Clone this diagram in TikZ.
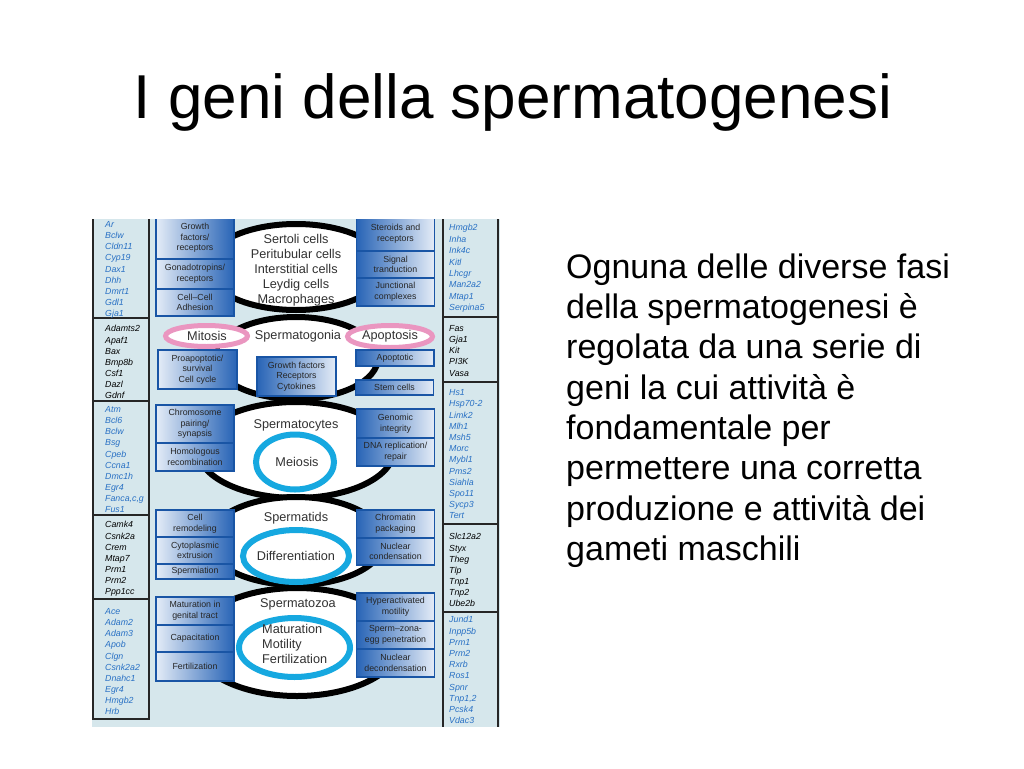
\documentclass[tikz,border=0pt]{standalone}
\usepackage{fontspec}
\setmainfont{Liberation Sans}
\usetikzlibrary{shapes.geometric}
\definecolor{figbg}{RGB}{214,231,236}
\definecolor{geneblue}{RGB}{40,112,196}
\definecolor{boxdark}{RGB}{40,100,182}
\definecolor{boxlight}{RGB}{228,236,247}
\definecolor{boxline}{RGB}{25,85,165}
\definecolor{ringpink}{RGB}{234,150,192}
\definecolor{ringcyan}{RGB}{22,168,224}
\definecolor{inktext}{RGB}{50,50,50}

\begin{document}
\begin{tikzpicture}[
    x=1pt,y=-1pt,
    genes/.style={anchor=north west,inner sep=0pt,align=left,
      font=\fontsize{8.8}{11.1}\selectfont\itshape,execute at begin node=\strut},
    lbox/.style={draw=boxline,line width=1.1pt,left color=boxlight,right color=boxdark,
      minimum width=78pt,inner sep=1pt,align=center,text=black!85,
      font=\fontsize{8.8}{10.6}\selectfont},
    rbox/.style={lbox,left color=boxdark,right color=boxlight},
    stage/.style={ellipse,draw=black,line width=6pt,fill=white,inner sep=0pt},
    cyanring/.style={ellipse,draw=ringcyan,line width=6pt,fill=white,inner sep=0pt},
    pinkring/.style={ellipse,draw=ringpink,line width=5pt,fill=white,inner sep=0pt},
    celltext/.style={inner sep=0pt,align=center,text=inktext,font=\fontsize{12.7}{15}\selectfont},
    rule/.style={line width=1.3pt,draw=black!85}
  ]
  \useasboundingbox (0,0) rectangle (1024,768);

  \node[anchor=base,inner sep=0pt,font=\fontsize{62}{70}\selectfont] (title) at (513,118)
    {I geni della spermatogenesi};

  \node[anchor=north west,inner sep=0pt,align=left,font=\fontsize{34}{40.3}\selectfont,
    execute at begin node=\strut] (caption) at (566,253.5)
    {Ognuna delle diverse fasi\\della spermatogenesi è\\regolata da una serie di\\geni la cui attività è\\fondamentale per\\permettere una corretta\\produzione e attività dei\\gameti maschili};

  \begin{scope}
    \clip (92,219) rectangle (500,727);
    \fill[figbg] (92,219) rectangle (500,727);

    % gene columns
    \draw[rule] (93,219) -- (93,719) -- (149,719) -- (149,219);
    \foreach \y in {318,401,515,599} \draw[rule] (93,\y) -- (149,\y);
    \draw[rule] (443,219) -- (443,727);
    \draw[rule] (498,219) -- (498,727);
    \foreach \y in {317,382,524,612} \draw[rule] (443,\y) -- (498,\y);

    \node[genes,text=geneblue] (genesL1) at (105,221.4)
      {Ar\\Bclw\\Cldn11\\Cyp19\\Dax1\\Dhh\\Dmrt1\\Gdl1\\Gja1};
    \node[genes] (genesL2) at (105,325.4)
      {Adamts2\\Apaf1\\Bax\\Bmp8b\\Csf1\\Dazl\\Gdnf};
    \node[genes,text=geneblue] (genesL3) at (105,406.4)
      {Atm\\Bcl6\\Bclw\\Bsg\\Cpeb\\Ccna1\\Dmc1h\\Egr4\\Fanca,c,g\\Fus1};
    \node[genes] (genesL4) at (105,521.4)
      {Camk4\\Csnk2a\\Crem\\Mtap7\\Prm1\\Prm2\\Ppp1cc};
    \node[genes,text=geneblue] (genesL5) at (105,608.4)
      {Ace\\Adam2\\Adam3\\Apob\\Clgn\\Csnk2a2\\Dnahc1\\Egr4\\Hmgb2\\Hrb};

    \node[genes,text=geneblue,font=\fontsize{8.8}{11.4}\selectfont\itshape] (genesR1) at (449,224.4)
      {Hmgb2\\Inha\\Ink4c\\Kitl\\Lhcgr\\Man2a2\\Mtap1\\Serpina5};
    \node[genes] (genesR2) at (449,325.4)
      {Fas\\Gja1\\Kit\\PI3K\\Vasa};
    \node[genes,text=geneblue,font=\fontsize{8.8}{11.2}\selectfont\itshape] (genesR3) at (449,389.4)
      {Hs1\\Hsp70-2\\Limk2\\Mlh1\\Msh5\\Morc\\Mybl1\\Pms2\\Siahla\\Spo11\\Sycp3\\Tert};
    \node[genes] (genesR4) at (449,533.4)
      {Slc12a2\\Styx\\Theg\\Tlp\\Tnp1\\Tnp2\\Ube2b};
    \node[genes,text=geneblue,font=\fontsize{8.8}{11.2}\selectfont\itshape] (genesR5) at (449,616.4)
      {Jund1\\Inpp5b\\Prm1\\Prm2\\Rxrb\\Ros1\\Spnr\\Tnp1,2\\Pcsk4\\Vdac3};

    % chain of cell stages
    \node[stage,minimum width=180,minimum height=86] (sertoli) at (296,267) {};
    \node[stage,minimum width=164,minimum height=82] (spgonia) at (296,358) {};
    \node[stage,minimum width=196,minimum height=96] (spcyte) at (296,450) {};
    \node[stage,minimum width=176,minimum height=88] (sptid) at (296,541) {};
    \node[stage,minimum width=208,minimum height=108] (spzoa) at (297,642) {};

    \node[cyanring,minimum width=78,minimum height=55] (meiosis) at (295,462) {};
    \node[cyanring,minimum width=106,minimum height=52] (differ) at (296,556) {};
    \node[cyanring,minimum width=111,minimum height=59] (matur) at (294.5,647.5) {};
    \node[pinkring,minimum width=82,minimum height=21] (mitosis) at (206.5,336) {};
    \node[pinkring,minimum width=85,minimum height=22] (apopt) at (390,336.5) {};

    % left boxes
    \node[lbox,minimum height=42] (growthL) at (195,238) {Growth\\factors/\\receptors};
    \node[lbox,minimum height=30] (gonadL) at (195,274) {Gonadotropins/\\receptors};
    \node[lbox,minimum height=27] (adhesL) at (195,302.5) {Cell--Cell\\Adhesion};
    \node[lbox,minimum width=79,minimum height=39] (proapL) at (197.5,369.5) {Proapoptotic/\\survival\\Cell cycle};
    \node[rbox,minimum width=79,minimum height=39] (growthC) at (296.5,376.5) {Growth factors\\Receptors\\Cytokines};
    \node[lbox,minimum height=38] (chromoL) at (195,424) {Chromosome\\pairing/\\synapsis};
    \node[lbox,minimum height=28] (homolL) at (195,457) {Homologous\\recombination};
    \node[lbox,minimum height=27] (remodL) at (195,523.5) {Cell\\remodeling};
    \node[lbox,minimum height=27] (extrusL) at (195,550.5) {Cytoplasmic\\extrusion};
    \node[lbox,minimum height=15] (spermiL) at (195,571.5) {Spermiation};
    \node[lbox,minimum height=28] (matgenL) at (195,611) {Maturation in\\genital tract};
    \node[lbox,minimum height=27] (capacL) at (195,638.5) {Capacitation};
    \node[lbox,minimum height=29] (fertL) at (195,666.5) {Fertilization};

    % right boxes
    \node[rbox,minimum height=34] (steroidR) at (395.5,234) {Steroids and\\receptors};
    \node[rbox,minimum height=27] (signalR) at (395.5,264.5) {Signal\\tranduction};
    \node[rbox,minimum height=28] (junctR) at (395.5,292) {Junctional\\complexes};
    \node[rbox,minimum height=16] (apoptR) at (395,358) {Apoptotic};
    \node[rbox,minimum height=15] (stemR) at (394.5,387.5) {Stem cells};
    \node[rbox,minimum height=29] (genomR) at (395.5,423.5) {Genomic\\integrity};
    \node[rbox,minimum height=28] (dnaR) at (395.5,452) {DNA replication/\\repair};
    \node[rbox,minimum height=28] (chromatR) at (395.5,524) {Chromatin\\packaging};
    \node[rbox,minimum height=27] (nucR) at (395.5,551.5) {Nuclear\\condensation};
    \node[rbox,minimum height=28] (hyperR) at (395.5,607) {Hyperactivated\\motility};
    \node[rbox,minimum height=28] (spermzR) at (395.5,635) {Sperm--zona-\\egg penetration};
    \node[rbox,minimum height=28] (decondR) at (395.5,663) {Nuclear\\decondensation};

    % stage labels
    \node[celltext] (sertoliT) at (296,270) {Sertoli cells\\Peritubular cells\\Interstitial cells\\Leydig cells\\Macrophages};
    \node[celltext] (spgoniaT) at (298,336) {Spermatogonia};
    \node[celltext] (mitosisT) at (207,336) {Mitosis};
    \node[celltext] (apoptT) at (390,336) {Apoptosis};
    \node[celltext] (spcyteT) at (296,425) {Spermatocytes};
    \node[celltext] (meiosisT) at (297,462) {Meiosis};
    \node[celltext] (sptidT) at (296,518) {Spermatids};
    \node[celltext] (differT) at (296,556) {Differentiation};
    \node[celltext] (spzoaT) at (298,604) {Spermatozoa};
    \node[celltext,align=left,anchor=west] (maturT) at (262,644) {Maturation\\Motility\\Fertilization};
  \end{scope}
\end{tikzpicture}
\end{document}
